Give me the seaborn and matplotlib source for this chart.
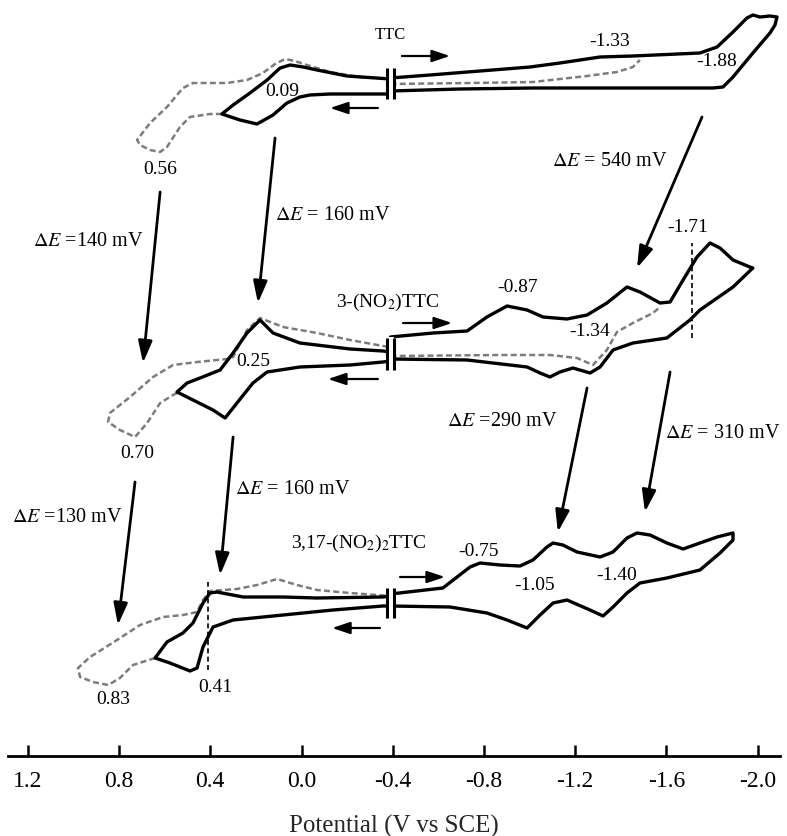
import matplotlib
matplotlib.use("Agg")
import matplotlib.pyplot as plt
import pandas as pd
import seaborn as sns

# ---------------------------------------------------------------------------
# Potential axis (V vs SCE)
tick_values = [1.2, 0.8, 0.4, 0.0, -0.4, -0.8, -1.2, -1.6, -2.0]
tick_labels = ["1.2", "0.8", "0.4", "0.0", "-0.4", "-0.8", "-1.2", "-1.6", "-2.0"]

# Cyclic voltammograms: potential E (V) and offset current I (arb. units).
# Each trace is split at the axis break into a reduction side and an
# oxidation side; the grey curves are the dotted companion scans.

# --- TTC ---
ttc_red_E = [-0.39, -0.563, -0.783, -1.002, -1.133, -1.221, -1.309, -1.453, -1.747,
             -1.822, -1.892, -1.953, -1.979, -2.010, -2.054, -2.085, -2.076, -2.054,
             -1.979, -1.892, -1.848, -1.804, -1.602, -1.309, -1.015, -0.695, -0.39]
ttc_red_I = [678, 681, 685, 689, 693, 696, 699, 700, 703, 709, 724, 738, 741, 739, 740,
             739, 731, 723, 703, 679, 669, 668, 668, 668, 668, 667, 665]
ttc_ox_E = [-0.39, -0.125, -0.037, 0.007, 0.064, 0.125, 0.195, 0.270, 0.349, 0.300,
            0.226, 0.151, 0.094, 0.050, -0.007, -0.068, -0.199, -0.39]
ttc_ox_I = [662, 662, 661, 659, 653, 641, 632, 636, 642, 651, 663, 676, 688, 691, 689,
            686, 680, 677]
ttc_dot_ox_E = [0.349, 0.401, 0.489, 0.533, 0.590, 0.620, 0.664, 0.708, 0.721, 0.664,
                0.590, 0.520, 0.476, 0.327, 0.239, 0.169, 0.116, 0.072, 0.029, -0.037,
                -0.125, -0.256, -0.39]
ttc_dot_ox_I = [642, 642, 639, 629, 609, 604, 606, 611, 616, 633, 649, 668, 673, 673,
                676, 683, 692, 697, 695, 690, 684, 679, 677]
ttc_dot_red_E = [-0.39, -0.739, -1.015, -1.252, -1.383, -1.453, -1.484]
ttc_dot_red_I = [672, 673, 674, 680, 684, 689, 696]

# --- 3-(NO2)TTC ---
mono_red_E = [-0.39, -0.577, -0.726, -0.813, -0.901, -0.989, -1.059, -1.164, -1.252,
              -1.339, -1.427, -1.484, -1.572, -1.616, -1.673, -1.734, -1.791, -1.835,
              -1.892, -1.966, -1.979, -1.892, -1.747, -1.703, -1.602, -1.453, -1.366,
              -1.309, -1.265, -1.190, -1.133, -1.089, -1.046, -0.989, -0.726, -0.39]
mono_red_I = [419, 423, 425, 439, 450, 446, 439, 437, 441, 453, 469, 464, 453, 454, 476,
              499, 513, 508, 496, 489, 488, 469, 446, 436, 418, 413, 406, 389, 383, 388,
              384, 379, 383, 389, 396, 397]
mono_ox_E = [-0.39, -0.357, -0.213, 0.007, 0.151, 0.213, 0.283, 0.335, 0.388, 0.476,
             0.546, 0.502, 0.445, 0.357, 0.300, 0.239, 0.182, 0.125, 0.007, -0.213,
             -0.357, -0.39]
mono_ox_I = [395, 394, 391, 389, 384, 373, 353, 338, 346, 356, 364, 373, 378, 386, 403,
             423, 436, 423, 413, 407, 405, 404]
mono_dot_ox_E = [0.546, 0.563, 0.620, 0.677, 0.730, 0.796, 0.848, 0.840, 0.752, 0.651,
                 0.563, 0.458, 0.327, 0.300, 0.239, 0.182, 0.081, -0.068, -0.213,
                 -0.357, -0.39]
mono_dot_ox_I = [363, 361, 353, 333, 319, 326, 334, 343, 359, 379, 391, 394, 397, 399,
                 426, 438, 429, 423, 416, 410, 409]
mono_dot_red_E = [-0.39, -0.870, -1.089, -1.208, -1.278, -1.339, -1.383, -1.453, -1.541,
                  -1.572]
mono_dot_red_I = [400, 401, 401, 398, 391, 406, 424, 433, 443, 449]

# --- 3,17-(NO2)2TTC ---
di_red_E = [-0.39, -0.620, -0.682, -0.739, -0.783, -0.870, -0.958, -1.015, -1.076,
            -1.103, -1.146, -1.208, -1.309, -1.366, -1.427, -1.471, -1.528, -1.602,
            -1.673, -1.747, -1.822, -1.892, -1.892, -1.835, -1.747, -1.602, -1.484,
            -1.427, -1.366, -1.322, -1.265, -1.164, -1.103, -1.046, -0.989, -0.901,
            -0.813, -0.651, -0.39]
di_red_I = [162, 168, 179, 189, 193, 191, 190, 196, 209, 213, 211, 204, 199, 204, 218,
            223, 221, 213, 207, 213, 219, 223, 216, 203, 186, 178, 173, 163, 149, 140,
            146, 156, 153, 141, 128, 136, 143, 149, 150]
di_ox_E = [-0.39, -0.357, -0.138, 0.081, 0.300, 0.388, 0.432, 0.458, 0.489, 0.577,
           0.642, 0.590, 0.520, 0.476, 0.432, 0.401, 0.371, 0.256, 0.081, -0.068,
           -0.357, -0.39]
di_ox_I = [150, 150, 146, 141, 136, 129, 109, 88, 85, 93, 98, 114, 123, 133, 153, 163,
           164, 159, 159, 158, 159, 160]
di_dot_ox_E = [0.642, 0.739, 0.796, 0.848, 0.914, 0.971, 0.980, 0.927, 0.809, 0.708,
               0.607, 0.520, 0.458, 0.432, 0.401, 0.283, 0.195, 0.107, 0.020, -0.068,
               -0.213, -0.39]
di_dot_ox_I = [98, 91, 78, 71, 74, 79, 88, 99, 116, 131, 139, 141, 144, 156, 165, 167,
               171, 177, 171, 166, 163, 160]

# Marked potentials (dashed guides)
guide_E = [-1.71, 0.41]
guide_I_lo = [418, 86]
guide_I_hi = [513, 174]

# Axis break at -0.39 V for each trace (current span of the break marks)
break_lo = [657, 386, 138]
break_hi = [688, 418, 168]


def pieces(named):
    frames = []
    for name, (E, I) in named.items():
        frames.append(pd.DataFrame({"E": E, "I": I, "piece": name}))
    return pd.concat(frames, ignore_index=True)


solid = pieces({
    "ttc_red": (ttc_red_E, ttc_red_I), "ttc_ox": (ttc_ox_E, ttc_ox_I),
    "mono_red": (mono_red_E, mono_red_I), "mono_ox": (mono_ox_E, mono_ox_I),
    "di_red": (di_red_E, di_red_I), "di_ox": (di_ox_E, di_ox_I),
})
dotted = pieces({
    "ttc_dot_ox": (ttc_dot_ox_E, ttc_dot_ox_I), "ttc_dot_red": (ttc_dot_red_E, ttc_dot_red_I),
    "mono_dot_ox": (mono_dot_ox_E, mono_dot_ox_I), "mono_dot_red": (mono_dot_red_E, mono_dot_red_I),
    "di_dot_ox": (di_dot_ox_E, di_dot_ox_I),
})

# ---------------------------------------------------------------------------
sns.set_theme(style="white")
plt.rcParams["font.family"] = ["Liberation Serif", "DejaVu Serif"]
plt.rcParams["mathtext.fontset"] = "stix"
plt.rcParams["axes.unicode_minus"] = False

fig = plt.figure(figsize=(7.87, 8.36), dpi=100)
ax = fig.add_axes([8 / 787, 80 / 836, 772 / 787, 756 / 836])

sns.lineplot(data=dotted, x="E", y="I", units="piece", estimator=None, sort=False,
             color="#7c7c7c", lw=1.8, linestyle=(0, (2.4, 1.3)), ax=ax, zorder=2)
sns.lineplot(data=solid, x="E", y="I", units="piece", estimator=None, sort=False,
             color="black", lw=2.4, ax=ax, zorder=3,
             solid_joinstyle="round", solid_capstyle="round")

# break marks
for lo, hi in zip(break_lo, break_hi):
    ax.fill_between([-0.404, -0.376], lo - 1, hi + 1, color="white", lw=0, zorder=4)
    ax.vlines([-0.376, -0.404], lo, hi, color="black", lw=2.2, zorder=5)

# dashed potential guides
ax.vlines(guide_E, guide_I_lo, guide_I_hi, color="black", lw=1.2,
          linestyles=(0, (3, 2)), zorder=2)

# scan direction arrows
scan_arrows = [((-0.440, 700), (-0.651, 700)), ((-0.335, 648), (-0.125, 648)),
               ((-0.445, 433), (-0.660, 433)), ((-0.335, 377), (-0.116, 377)),
               ((-0.432, 179), (-0.629, 179)), ((-0.344, 128), (-0.134, 128))]
for start, end in scan_arrows:
    ax.annotate("", xy=end, xytext=start,
                arrowprops=dict(arrowstyle="-|>,head_length=0.9,head_width=0.3",
                                color="black", lw=1.6, shrinkA=0, shrinkB=0))

# shift arrows between traces
shift_arrows = [((-1.756, 639), (-1.471, 488)), ((0.620, 564), (0.695, 393)),
                ((0.116, 618), (0.191, 453)), ((0.730, 274), (0.805, 131)),
                ((0.300, 319), (0.357, 181)), ((-1.252, 368), (-1.124, 224)),
                ((-1.616, 384), (-1.506, 244))]
for start, end in shift_arrows:
    ax.annotate("", xy=end, xytext=start,
                arrowprops=dict(arrowstyle="-|>,head_length=1.1,head_width=0.35",
                                color="black", lw=2.0, shrinkA=0, shrinkB=0))

# text labels
labels = [
    ("TTC", -0.388, 721, 12),
    ("0.09", 0.086, 664, 14), ("-1.33", -1.352, 714, 14), ("-1.88", -1.822, 694, 14),
    ("0.56", 0.620, 586, 14),
    (r"$\Delta E$ = 540 mV", -1.352, 594, 14.5),
    (r"$\Delta E$ = 160 mV", -0.138, 540, 14.5),
    (r"$\Delta E$ =140 mV", 0.936, 514, 14.5),
    ("-1.71", -1.694, 528, 14),
    (r"3-(NO$_2$)TTC", -0.379, 454, 14),
    ("-0.87", -0.949, 468, 14), ("-1.34", -1.265, 424, 14),
    ("0.25", 0.213, 394, 14), ("0.70", 0.721, 303, 14),
    (r"$\Delta E$ =290 mV", -0.879, 334, 14.5),
    (r"$\Delta E$ = 310 mV", -1.848, 322, 14.5),
    (r"$\Delta E$ = 160 mV", 0.037, 266, 14.5),
    (r"$\Delta E$ =130 mV", 1.028, 239, 14.5),
    (r"3,17-(NO$_2$)$_2$TTC", -0.252, 213, 14),
    ("-0.75", -0.774, 204, 14), ("-1.05", -1.024, 171, 14), ("-1.40", -1.383, 181, 14),
    ("0.83", 0.826, 56, 14), ("0.41", 0.379, 69, 14),
]
for txt, x, y, size in labels:
    ax.text(x, y, txt, ha="center", va="center", fontsize=size, color="black", zorder=6)

# axes styling
ax.set_xlim(1.287, -2.098)
ax.set_ylim(0, 756)
ax.set_xticks(tick_values)
ax.set_xticklabels(tick_labels)
ax.set_yticks([])
ax.set_ylabel("")
ax.set_xlabel("Potential (V vs SCE)", fontsize=18, labelpad=16)
for side in ("left", "top", "right"):
    ax.spines[side].set_visible(False)
ax.spines["bottom"].set_linewidth(2.0)
ax.spines["bottom"].set_color("black")
ax.tick_params(axis="x", bottom=True, direction="in", length=8, width=1.8,
               labelsize=17, pad=11, colors="black")
ax.set_facecolor("white")
fig.patch.set_facecolor("white")

fig.savefig("out.png", dpi=100)
